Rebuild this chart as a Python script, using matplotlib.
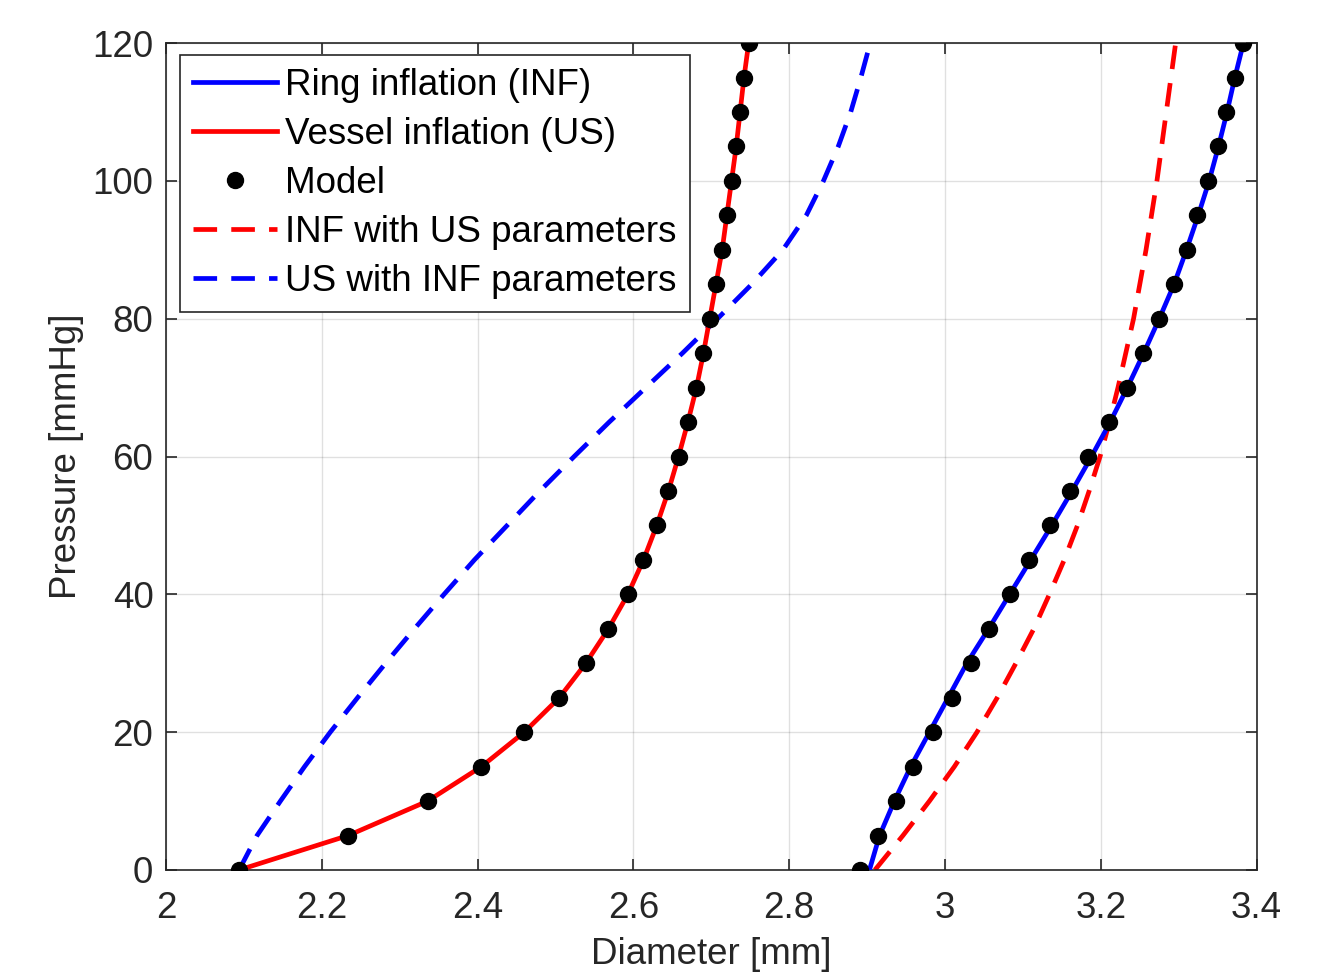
import numpy as np
import matplotlib
matplotlib.use('Agg')
import matplotlib.pyplot as plt

plt.rcParams['font.family'] = ['Liberation Sans', 'DejaVu Sans']

# pressure levels [mmHg]
pressure = [0, 5, 10, 15, 20, 25, 30, 35, 40, 45, 50, 55, 60,
            65, 70, 75, 80, 85, 90, 95, 100, 105, 110, 115, 120]

# ring inflation (INF) experiment and model
ring_exp = [2.903, 2.916, 2.935, 2.956, 2.980, 3.004, 3.028, 3.056, 3.083, 3.110, 3.137, 3.163, 3.188,
            3.212, 3.234, 3.255, 3.275, 3.294, 3.310, 3.325, 3.339, 3.351, 3.362, 3.372, 3.383]
ring_model = [2.891, 2.914, 2.937, 2.959, 2.985, 3.009, 3.033, 3.057, 3.084, 3.108, 3.135, 3.160, 3.184,
              3.210, 3.233, 3.254, 3.275, 3.294, 3.310, 3.324, 3.338, 3.351, 3.361, 3.372, 3.383]

# vessel inflation (US) experiment and model
vessel_exp = [2.094, 2.234, 2.336, 2.405, 2.460, 2.505, 2.539, 2.568, 2.593, 2.613, 2.630, 2.645, 2.658,
              2.670, 2.681, 2.690, 2.698, 2.706, 2.714, 2.720, 2.726, 2.732, 2.737, 2.742, 2.748]
vessel_model = [2.094, 2.234, 2.336, 2.405, 2.460, 2.505, 2.539, 2.568, 2.593, 2.613, 2.630, 2.645, 2.658,
                2.670, 2.681, 2.690, 2.698, 2.706, 2.714, 2.720, 2.726, 2.732, 2.737, 2.742, 2.748]

# cross predictions
inf_us_par = [2.910, 2.946, 2.980, 3.012, 3.041, 3.067, 3.091, 3.114, 3.134, 3.153, 3.170, 3.185, 3.199,
              3.211, 3.222, 3.232, 3.242, 3.250, 3.258, 3.265, 3.272, 3.278, 3.284, 3.290, 3.296]
us_inf_par = [2.094, 2.117, 2.147, 2.178, 2.211, 2.246, 2.282, 2.319, 2.357, 2.396, 2.438, 2.480, 2.524,
              2.569, 2.616, 2.663, 2.708, 2.752, 2.792, 2.822, 2.844, 2.863, 2.879, 2.892, 2.904]

fig = plt.figure(figsize=(13.27, 9.74), dpi=100)
ax = fig.add_axes([0.125, 0.1068, 0.822, 0.849])

lw = 3.4
dash = (0, (5.0, 3.0))
ax.plot(ring_exp, pressure, color='#0000ff', lw=lw, label='Ring inflation (INF)', zorder=3)
ax.plot(vessel_exp, pressure, color='#ff0000', lw=lw, label='Vessel inflation (US)', zorder=3)
ax.plot(ring_model, pressure, 'o', color='black', ms=11.5, label='Model', zorder=4)
ax.plot(vessel_model, pressure, 'o', color='black', ms=11.5, zorder=4)
ax.plot(inf_us_par, pressure, color='#ff0000', lw=lw, ls=dash, label='INF with US parameters', zorder=2)
ax.plot(us_inf_par, pressure, color='#0000ff', lw=lw, ls=dash, label='US with INF parameters', zorder=2)

ax.set_xlim(2, 3.4)
ax.set_ylim(0, 120)
ax.set_xticks(np.arange(2, 3.41, 0.2))
ax.set_xticklabels(['2', '2.2', '2.4', '2.6', '2.8', '3', '3.2', '3.4'])
ax.set_yticks(np.arange(0, 121, 20))
ax.tick_params(direction='in', length=8, width=1.2, colors='#262626', labelsize=26.5,
               top=True, right=True)
ax.tick_params(axis='x', pad=15)
ax.tick_params(axis='y', pad=9)
for s in ax.spines.values():
    s.set_color('#262626')
    s.set_linewidth(1.2)
ax.grid(True, color='#000000', alpha=0.12, lw=1)
ax.set_axisbelow(True)

# kept just inside the bottom edge (the reference crops it slightly)
ax.set_xlabel('Diameter [mm]', fontsize=26.5, color='#262626', labelpad=8)
ax.set_ylabel('Pressure [mmHg]', fontsize=26.5, color='#262626', labelpad=6)

leg = ax.legend(loc='upper left', bbox_to_anchor=(0.0128, 0.9855), borderaxespad=0,
                fontsize=26.5, handlelength=2.3, handletextpad=0.22, labelspacing=0.38,
                fancybox=False, framealpha=1, edgecolor='#262626', borderpad=0.35)
leg.get_frame().set_linewidth(1.2)

fig.savefig('out.png', dpi=100)
